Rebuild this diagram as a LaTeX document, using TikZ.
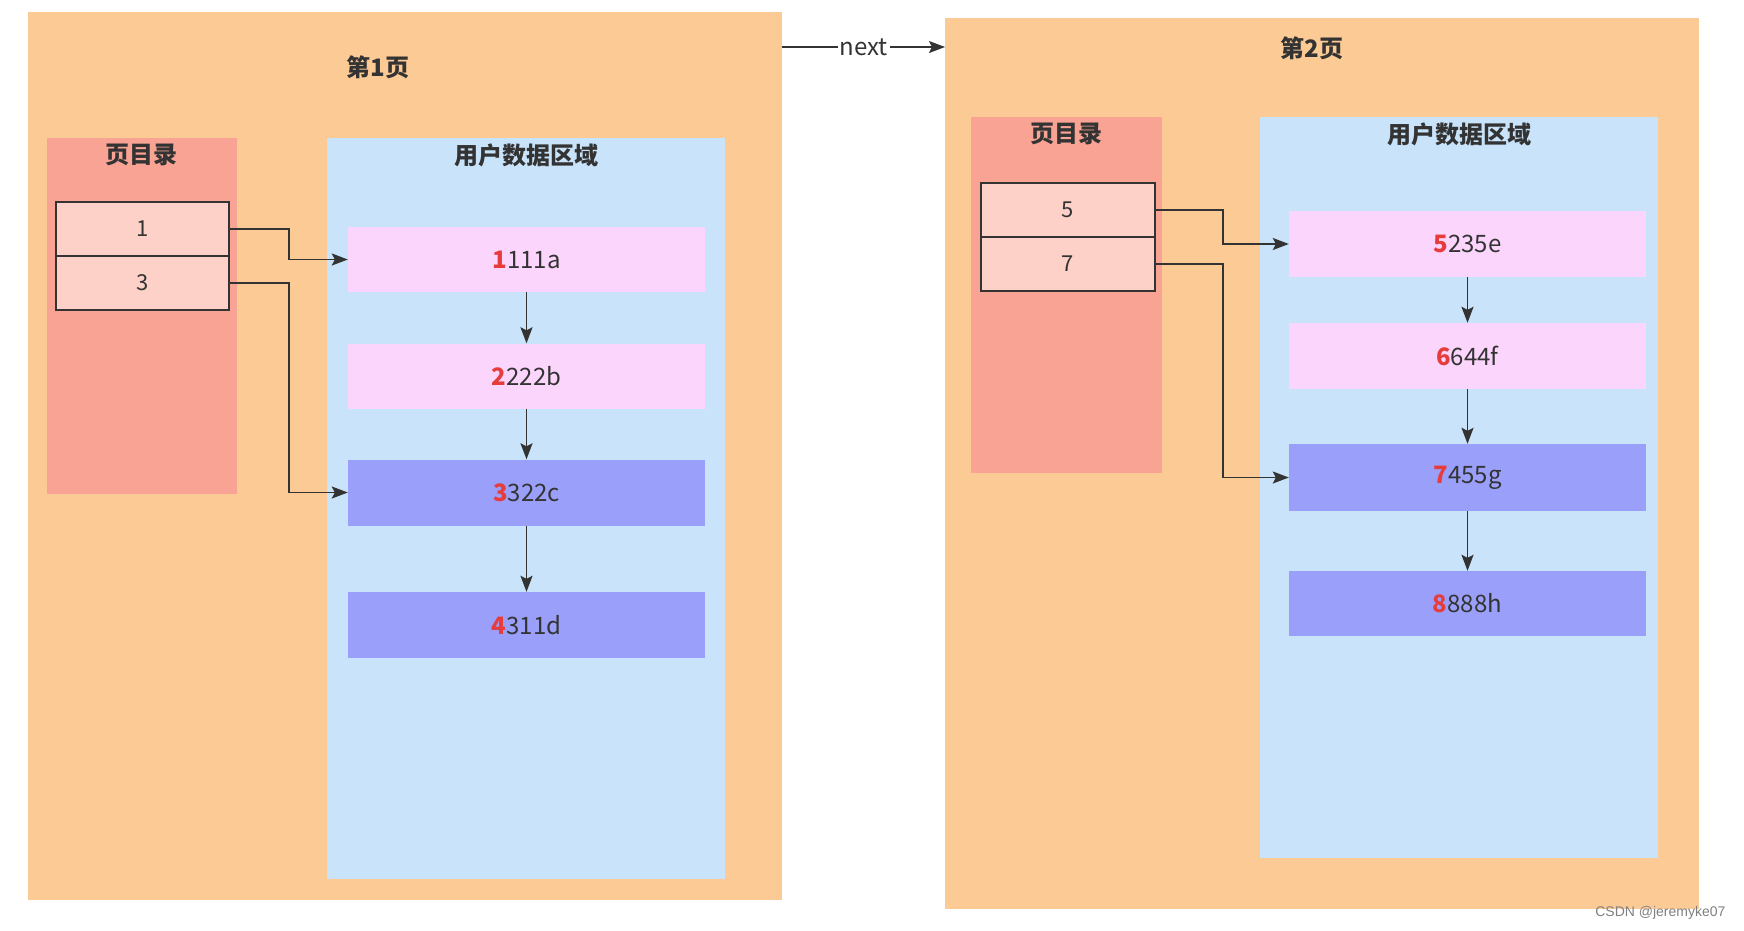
\documentclass[tikz,border=0pt]{standalone}
\usepackage{fontspec}
\setmainfont{Noto Sans CJK SC}
\newfontfamily\wmfont{Liberation Sans}
\usetikzlibrary{arrows.meta}
\definecolor{pageC}{HTML}{FCCB95}
\definecolor{dirC}{HTML}{F9A394}
\definecolor{dataC}{HTML}{C8E3FA}
\definecolor{cellC}{HTML}{FDD0C8}
\definecolor{pinkC}{HTML}{FCD5FC}
\definecolor{blueC}{HTML}{9AA0FA}
\definecolor{redC}{HTML}{E63C3C}
\definecolor{txt}{HTML}{333333}
\newcommand\hd[1]{\textcolor{redC}{\bfseries #1}}
\begin{document}
\begin{tikzpicture}[x=1pt,y=-1pt,
  every node/.style={font=\fontsize{24}{28}\selectfont, text=txt},
  area/.style={draw=none, inner sep=0, anchor=north west},
  pagebox/.style={area, fill=pageC},
  dirbox/.style={area, fill=dirC},
  databox/.style={area, fill=dataC},
  title/.style={font=\bfseries\fontsize{24}{28}\selectfont},
  cellbox/.style={draw=txt, line width=1.5pt, fill=cellC, inner sep=0, font=\fontsize{22}{26}\selectfont},
  pinkblk/.style={fill=pinkC, draw=none, inner sep=0},
  blueblk/.style={fill=blueC, draw=none, inner sep=0},
  arr/.style={draw=txt, line width=1.6pt, -{Stealth[length=16pt,width=12pt,inset=3pt]}}]
\useasboundingbox[fill=white] (0,0) rectangle (1744,930);

% page 1
\node[pagebox, minimum width=754pt, minimum height=888pt] (p1) at (28,12) {};
\node[dirbox, minimum width=190pt, minimum height=356pt] (d1) at (47,138) {};
\node[databox, minimum width=398pt, minimum height=741pt] (r1) at (327,138) {};
\node[title] (t1) at (378,67) {第1页};
\node[title] (dt1) at (141,155) {页目录};
\node[title] (rt1) at (526,155) {用户数据区域};
\node[cellbox, minimum width=173pt, minimum height=54pt] (c1) at (142.5,229) {1};
\node[cellbox, minimum width=173pt, minimum height=54pt] (c3) at (142.5,283) {3};
\node[pinkblk, minimum width=357pt, minimum height=65pt] (b1) at (526.5,259.5) {\hd{1}111a};
\node[pinkblk, minimum width=357pt, minimum height=65pt] (b2) at (526.5,376) {\hd{2}222b};
\node[blueblk, minimum width=357pt, minimum height=66pt] (b3) at (526.5,492.5) {\hd{3}322c};
\node[blueblk, minimum width=357pt, minimum height=66pt] (b4) at (526.5,625) {\hd{4}311d};
\draw[arr] (c1.east) -- ++(59.5,0) |- (b1.west);
\draw[arr] (c3.east) -- ++(59.5,0) |- (b3.west);
\draw[arr] (b1) -- (b2);
\draw[arr] (b2) -- (b3);
\draw[arr] (b3) -- (b4);

% page 2
\node[pagebox, minimum width=754pt, minimum height=891pt] (p2) at (945,18) {};
\node[dirbox, minimum width=191pt, minimum height=356pt] (d2) at (971,117) {};
\node[databox, minimum width=398pt, minimum height=741pt] (r2) at (1260,117) {};
\node[title] (t2) at (1312,48) {第2页};
\node[title] (dt2) at (1066,134) {页目录};
\node[title] (rt2) at (1459,134) {用户数据区域};
\node[cellbox, minimum width=174pt, minimum height=54pt] (c5) at (1068,210) {5};
\node[cellbox, minimum width=174pt, minimum height=54pt] (c7) at (1068,264) {7};
\node[pinkblk, minimum width=357pt, minimum height=66pt] (b5) at (1467.5,244) {\hd{5}235e};
\node[pinkblk, minimum width=357pt, minimum height=66pt] (b6) at (1467.5,356) {\hd{6}644f};
\node[blueblk, minimum width=357pt, minimum height=67pt] (b7) at (1467.5,477.5) {\hd{7}455g};
\node[blueblk, minimum width=357pt, minimum height=65pt] (b8) at (1467.5,603.5) {\hd{8}888h};
\draw[arr] (c5.east) -- ++(67,0) |- (b5.west);
\draw[arr] (c7.east) -- ++(67,0) |- (b7.west);
\draw[arr] (b5) -- (b6);
\draw[arr] (b6) -- (b7);
\draw[arr] (b7) -- (b8);

% next link
\path (p1.north east) ++(0,35) coordinate (ns);
\path (p2.north west) ++(0,29) coordinate (ne);
\draw[arr] (ns) -- node[fill=white, inner sep=2pt] (nextlbl) {next} (ne);

% watermark
\node[anchor=east, font=\wmfont\fontsize{14}{16}\selectfont, text=gray] (wm) at (1729,913) {CSDN @jeremyke07};
\end{tikzpicture}
\end{document}
